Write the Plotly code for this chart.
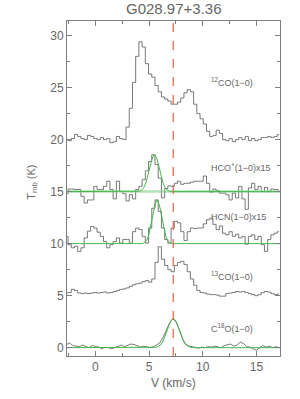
import plotly.graph_objects as go

# ---------------- data ----------------
title = "G028.97+3.36"
v_lsr = 7.25  # systemic velocity (dashed line)

velocity = [-2.7, -2.4, -2.1, -1.8, -1.5, -1.2, -0.9, -0.6, -0.3, 0.0, 0.3, 0.6, 0.9, 1.2,
            1.5, 1.8, 2.1, 2.4, 2.7, 3.0, 3.3, 3.6, 3.9, 4.2, 4.5, 4.8, 5.1, 5.4, 5.7, 6.0,
            6.3, 6.6, 6.9, 7.2, 7.5, 7.8, 8.1, 8.4, 8.7, 9.0, 9.3, 9.6, 9.9, 10.2, 10.5,
            10.8, 11.1, 11.4, 11.7, 12.0, 12.3, 12.6, 12.9, 13.2, 13.5, 13.8, 14.1, 14.4,
            14.7, 15.0, 15.3, 15.6, 15.9, 16.2, 16.5, 16.8, 17.1]

co12 = [20.0, 19.9, 20.1, 20.5, 20.3, 20.1, 20.0, 20.4, 20.3, 20.1, 20.0, 20.2, 20.0, 20.1,
        19.7, 19.8, 20.3, 20.1, 20.0, 21.2, 23.0, 25.5, 28.0, 29.4, 28.9, 27.3, 26.3, 26.0,
        25.2, 24.6, 24.1, 23.9, 23.7, 23.4, 23.4, 23.6, 24.0, 24.5, 24.8, 24.6, 23.4, 22.5,
        22.0, 21.5, 20.8, 20.3, 20.4, 20.9, 20.6, 20.0, 19.9, 20.1, 19.8, 20.0, 20.2, 20.0,
        20.3, 19.9, 20.1, 19.9, 20.0, 20.2, 20.2, 20.3, 20.2, 20.3, 20.5]

hcop = [14.8, 15.25, 15.25, 15.2, 15.2, 14.55, 13.9, 14.2, 14.2, 15.5, 15.2, 15.2, 15.5,
        16.0, 15.2, 14.3, 16.0, 15.0, 14.8, 14.1, 14.7, 14.3, 15.2, 15.5, 16.15, 17.0, 17.9,
        18.55, 17.6, 16.3, 14.4, 15.3, 15.55, 15.5, 15.8, 16.0, 15.7, 15.8, 15.8, 15.9, 16.0,
        16.0, 16.0, 16.5, 15.8, 14.95, 15.25, 15.1, 14.85, 14.85, 14.7, 14.2, 14.85, 14.4,
        15.5, 14.3, 13.3, 15.35, 15.8, 15.2, 15.5, 15.0, 15.4, 15.0, 15.25, 15.2, 15.2]

hcn = [10.7, 9.9, 9.6, 9.75, 9.25, 9.6, 10.55, 11.2, 11.65, 11.5, 11.1, 10.7, 10.2, 9.6, 9.9,
       10.2, 10.55, 10.05, 10.4, 10.4, 10.05, 11.15, 11.5, 11.35, 10.7, 10.05, 11.5, 13.4,
       14.2, 13.1, 11.5, 10.4, 10.05, 11.5, 12.15, 12.0, 11.15, 10.3, 11.15, 11.5, 11.45,
       11.5, 11.5, 11.9, 12.3, 12.45, 11.85, 11.35, 11.7, 11.0, 10.85, 11.15, 10.7, 10.9,
       10.55, 10.7, 9.95, 10.7, 10.85, 10.4, 10.7, 9.9, 9.25, 10.4, 10.85, 11.0, 11.15]

co13 = [5.25, 5.3, 5.6, 5.5, 5.25, 5.2, 5.25, 5.2, 5.25, 5.3, 5.25, 5.3, 5.35, 5.25, 5.3,
        5.4, 5.5, 5.6, 5.65, 5.75, 5.9, 6.05, 6.15, 6.2, 6.35, 6.45, 6.3, 6.6, 8.2, 9.7, 8.5,
        7.9, 7.5, 7.3, 7.9, 8.2, 8.3, 8.0, 7.3, 6.6, 6.0, 5.5, 5.3, 5.25, 5.15, 5.1, 5.1,
        5.05, 4.95, 4.95, 5.2, 5.25, 5.3, 5.4, 5.35, 5.4, 5.3, 5.2, 5.1, 5.0, 5.1, 5.3, 5.4,
        5.35, 5.2, 5.1, 5.15]

c18o = [0.3, 0.45, 0.2, 0.15, 0.1, 0.25, 0.1, 0.0, 0.2, 0.15, 0.05, -0.1, 0.05, 0.0, -0.1,
        0.0, 0.15, 0.25, 0.1, 0.2, 0.35, 0.3, 0.15, 0.05, 0.15, 0.1, 0.0, 0.1, 0.25, 0.45,
        1.0, 1.7, 2.35, 2.75, 2.55, 1.8, 0.9, 0.35, 0.15, 0.1, 0.0, -0.05, 0.05, 0.0, 0.1,
        0.05, 0.15, 0.1, 0.0, 0.2, 0.3, 0.35, 0.15, 0.25, 0.55, 0.4, 0.1, 0.05, -0.1, -0.25,
        0.0, 0.2, 0.05, 0.15, 0.0, 0.1, 0.0]

# Gaussian fit curves (sampled)
hcop_fit_v = [-2.7, 3.9, 4.1, 4.3, 4.5, 4.7, 4.9, 5.1, 5.3, 5.5, 5.7, 5.9, 6.1, 6.3, 6.5, 6.7,
              6.9, 7.1, 17.2]
hcop_fit_t = [15.0, 15.0, 15.04, 15.14, 15.37, 15.83, 16.57, 17.47, 18.24, 18.55, 18.24,
              17.47, 16.57, 15.83, 15.37, 15.14, 15.04, 15.0, 15.0]

hcn_fit_v = [-2.7, 4.35, 4.55, 4.75, 4.95, 5.15, 5.35, 5.55, 5.75, 5.95, 6.15, 6.35, 6.55,
             6.75, 6.95, 7.15, 17.2]
hcn_fit_t = [10.0, 10.0, 10.09, 10.28, 10.74, 11.59, 12.72, 13.77, 14.2, 13.77, 12.72, 11.59,
             10.74, 10.28, 10.09, 10.0, 10.0]

c18o_fit_v = [-2.7, 5.45, 5.65, 5.85, 6.05, 6.25, 6.45, 6.65, 6.85, 7.05, 7.25, 7.45, 7.65,
              7.85, 8.05, 8.25, 8.45, 8.65, 8.85, 9.05, 17.2]
c18o_fit_t = [0.0, 0.0, 0.04, 0.11, 0.26, 0.54, 0.97, 1.55, 2.15, 2.62, 2.8, 2.62, 2.15, 1.55,
              0.97, 0.54, 0.26, 0.11, 0.04, 0.0, 0.0]

hcop_base = [15.0, 15.0]
base_v = [-2.7, 17.2]

labels = ["<sup>12</sup>CO(1\u22120)", "HCO<sup>+</sup>(1\u22120)x15", "HCN(1\u22120)x15",
          "<sup>13</sup>CO(1\u22120)", "C<sup>18</sup>O(1\u22120)"]
label_y = [25.5, 17.4, 12.6, 6.9, 1.9]

x_range = [-2.65, 17.2]
y_range = [-0.8, 31.4]

# ---------------- figure ----------------
spec_color = "#555555"
fit_color = "#44b84a"
axis_color = "#808080"
text_color = "#666666"
fam = "Liberation Sans, Arial"

fig = go.Figure()
for ys, shape in [(co12, "hvh"), (hcop, "hvh"), (hcn, "hvh"), (co13, "hvh"), (c18o, "linear")]:
    fig.add_trace(go.Scatter(x=velocity, y=ys, mode="lines", line=dict(color=spec_color, width=0.8, shape=shape),
                             showlegend=False, hoverinfo="skip"))

fig.add_trace(go.Scatter(x=base_v, y=hcop_base, mode="lines",
                         line=dict(color="rgba(130,205,130,0.6)", width=2.5), showlegend=False))
for fv, ft in [(hcop_fit_v, hcop_fit_t), (hcn_fit_v, hcn_fit_t), (c18o_fit_v, c18o_fit_t)]:
    fig.add_trace(go.Scatter(x=fv, y=ft, mode="lines", line=dict(color=fit_color, width=1),
                             showlegend=False, hoverinfo="skip"))

fig.add_vline(x=v_lsr, line=dict(color="#e2653c", width=1.2, dash="dash"))

for txt, ly in zip(labels, label_y):
    fig.add_annotation(x=10.55, y=ly, text=txt, showarrow=False, xanchor="left",
                       font=dict(size=9, color=text_color, family=fam))

# axis titles & plot title as annotations (fixed positions)
fig.add_annotation(x=0.5, y=-0.08, xref="paper", yref="paper", text="V (km/s)", showarrow=False,
                   xanchor="center", yanchor="middle", font=dict(size=12, color=text_color, family=fam))
fig.add_annotation(x=-0.165, y=0.52, xref="paper", yref="paper", text="T<sub>mb</sub> (K)", showarrow=False,
                   textangle=-90, xanchor="center", yanchor="middle",
                   font=dict(size=11, color=text_color, family=fam))
fig.add_annotation(x=0.5, y=1.0, xref="paper", yref="paper", text=title, showarrow=False,
                   xanchor="center", yanchor="bottom", yshift=2,
                   font=dict(size=15, color=text_color, family=fam))

axis_common = dict(showgrid=False, zeroline=False, showline=True, linecolor=axis_color, linewidth=1,
                   mirror="ticks", ticks="inside", ticklen=5, tickcolor=axis_color, automargin=False,
                   tickfont=dict(size=12, color=text_color, family=fam))

fig.update_xaxes(range=x_range, dtick=5, tick0=0,
                 minor=dict(dtick=2.5, ticks="inside", ticklen=3, tickcolor=axis_color),
                 **axis_common)
fig.update_yaxes(range=y_range, dtick=5, tick0=0,
                 minor=dict(dtick=2.5, ticks="inside", ticklen=3, tickcolor=axis_color),
                 **axis_common)

fig.update_layout(
    width=300, height=399,
    margin=dict(l=67, r=20, t=21, b=43, autoexpand=False),
    paper_bgcolor="white", plot_bgcolor="white",
    font=dict(family=fam, color=text_color),
)

fig.write_html("out.html", config={"displayModeBar": False},
               post_script="document.body.style.margin='0';")
